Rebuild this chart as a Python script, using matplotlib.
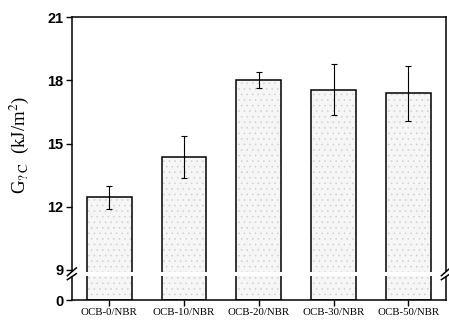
import numpy as np
import matplotlib
matplotlib.use("Agg")
import matplotlib.pyplot as plt

samples = ["OCB-0/NBR", "OCB-10/NBR", "OCB-20/NBR", "OCB-30/NBR", "OCB-50/NBR"]
gc = [12.45, 14.35, 18.0, 17.55, 17.38]
gc_err = [0.55, 1.0, 0.38, 1.2, 1.3]
yticks = [0, 9, 12, 15, 18, 21]

# broken axis: 0-9 squeezed into a short band at the bottom
BREAK = 9.0
K = 30.0 / (9 * 21.0)


def fwd(v):
    v = np.asarray(v, dtype=float)
    return np.where(v < BREAK, v * K, BREAK * K + (v - BREAK))


def inv(u):
    u = np.asarray(u, dtype=float)
    return np.where(u < BREAK * K, u / K, u - BREAK * K + BREAK)


plt.rcParams["hatch.linewidth"] = 0.4
plt.rcParams["mathtext.fontset"] = "stix"

fig = plt.figure(figsize=(4.49, 3.22), dpi=100)
ax = fig.add_axes([0.160, 0.068, 0.833, 0.879])
ax.set_yscale("function", functions=(fwd, inv))

x = np.arange(len(samples))
# light stipple inside, black outline on top
ax.bar(x, gc, width=0.6, color="#f6f6f6", edgecolor="#cfcfcf", linewidth=0,
       hatch="...", zorder=2)
ax.bar(x, gc, width=0.6, fill=False, edgecolor="black", linewidth=1.1, zorder=2.5)
ax.errorbar(x, gc, yerr=gc_err, fmt="none", ecolor="black", elinewidth=0.8,
            capsize=2.5, capthick=0.8, zorder=3)

ax.set_xlim(-0.5, 4.5)
ax.set_ylim(0, 21)
ax.set_yticks(yticks)
ax.set_yticklabels([str(t) for t in yticks], fontfamily="Liberation Sans",
                   fontsize=10.5, fontweight="bold")
ax.set_xticks(x)
ax.set_xticklabels(samples, fontfamily="Liberation Serif", fontsize=7.8)
ax.tick_params(axis="y", direction="out", length=4, width=1, pad=2)
ax.tick_params(axis="x", direction="out", length=4, width=1, pad=2)
ax.minorticks_off()
for s in ax.spines.values():
    s.set_linewidth(1.1)

ax.set_ylabel(r"G$_{\mathrm{?\,C}}$  (kJ/m$^2$)", fontfamily="Liberation Serif",
              fontsize=13.5)
ax.yaxis.set_label_coords(-0.11, 0.55)

# white gap and slash marks at the break
ax.fill_between([-0.55, 4.55], 7.2, 8.4, color="white", zorder=4, clip_on=False,
                linewidth=0)
tr = ax.get_yaxis_transform()
for xa in (0.0, 1.0):
    for dy in (6.7, 7.9):
        ax.plot([xa - 0.012, xa + 0.012], [dy - 0.6, dy + 1.2], color="black",
                lw=1.1, transform=tr, clip_on=False, zorder=5)

fig.savefig("out.png", dpi=100)
